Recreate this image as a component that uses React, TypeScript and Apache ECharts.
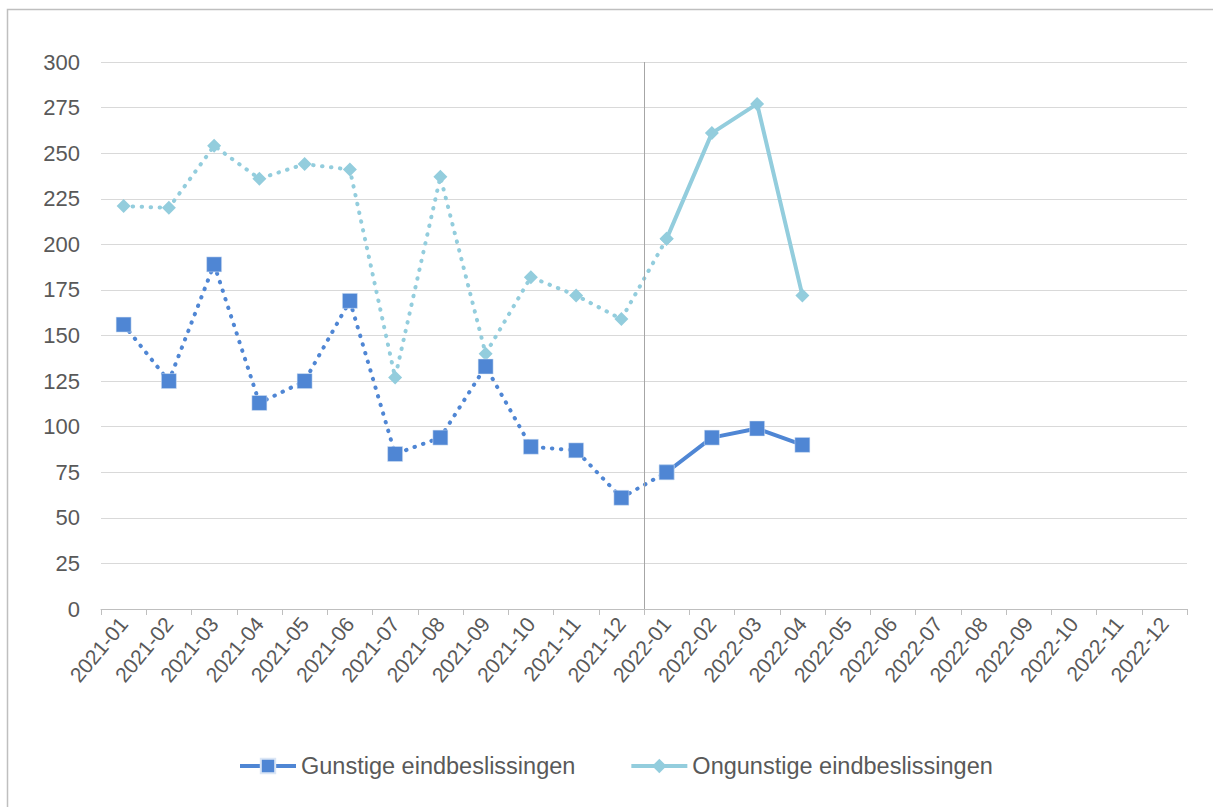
import React, { useEffect, useRef } from "react";
import * as echarts from "echarts";

const categories = [
  "2021-01", "2021-02", "2021-03", "2021-04", "2021-05", "2021-06",
  "2021-07", "2021-08", "2021-09", "2021-10", "2021-11", "2021-12",
  "2022-01", "2022-02", "2022-03", "2022-04", "2022-05", "2022-06",
  "2022-07", "2022-08", "2022-09", "2022-10", "2022-11", "2022-12",
];
const gunstige = [156, 125, 189, 113, 125, 169, 85, 94, 133, 89, 87, 61, 75, 94, 99, 90];
const ongunstige = [221, 220, 254, 236, 244, 241, 127, 237, 140, 182, 172, 159, 203, 261, 277, 172];
const splitIndex = 12; // first month of 2022
const nameG = "Gunstige eindbeslissingen";
const nameO = "Ongunstige eindbeslissingen";
const yTicks = { min: 0, max: 300, interval: 25 };

const colorG = "#4f86d4";
const colorO = "#93cddd";
const textColor = "#595959";
const font = "Liberation Sans";

function dotted(values: number[]) {
  return categories.map((_, i) => (i <= splitIndex && i < values.length ? values[i] : null));
}
function solid(values: number[]) {
  return categories.map((_, i) => (i >= splitIndex && i < values.length ? values[i] : null));
}

export default function App() {
  const ref = useRef<HTMLDivElement>(null);
  useEffect(() => {
    if (!ref.current) return;
    const chart = echarts.init(ref.current, null, { renderer: "svg" });
    const dotStyle = (c: string) => ({ color: c, width: 4, type: [0.5, 8.5] as any, cap: "round" as any });
    const solidStyle = (c: string) => ({ color: c, width: 4 });
    chart.setOption({
      animation: false,
      backgroundColor: "#ffffff",
      textStyle: { fontFamily: font },
      graphic: [
        {
          type: "rect",
          shape: { x: 7.5, y: 9.5, width: 1400, height: 1000 },
          style: { fill: "none", stroke: "#bfbfbf", lineWidth: 1.5 },
          silent: true,
        },
      ],
      grid: { left: 101, right: 26, top: 62, bottom: 198, containLabel: false },
      legend: {
        top: 749,
        left: 233,
        itemWidth: 56,
        itemHeight: 18,
        itemGap: 54,
        data: [nameG, nameO],
        lineStyle: { width: 4 },
        textStyle: { color: textColor, fontSize: 23.5, fontFamily: font },
      },
      xAxis: [
        {
          type: "category",
          data: categories,
          boundaryGap: true,
          axisLine: { lineStyle: { color: "#bfbfbf", width: 1 } },
          axisTick: { show: true, length: 6, lineStyle: { color: "#bfbfbf" } },
          axisLabel: {
            rotate: 50,
            interval: 0,
            fontSize: 21,
            color: textColor,
            fontFamily: font,
            margin: 11,
          },
          splitLine: { show: false },
        },
        {
          type: "value",
          min: 0,
          max: categories.length,
          show: false,
          splitLine: { show: false },
        },
      ],
      yAxis: {
        type: "value",
        min: yTicks.min,
        max: yTicks.max,
        interval: yTicks.interval,
        axisLine: { show: false },
        axisTick: { show: false },
        axisLabel: { fontSize: 22, color: textColor, fontFamily: font, margin: 21 },
        splitLine: { lineStyle: { color: "#d9d9d9", width: 1 } },
      },
      series: [
        {
          name: "divider",
          type: "line",
          xAxisIndex: 1,
          data: [[splitIndex, 0]],
          showSymbol: false,
          symbol: "none",
          lineStyle: { opacity: 0 },
          silent: true,
          markLine: {
            silent: true,
            symbol: "none",
            label: { show: false },
            lineStyle: { color: "#a6a6a6", width: 1, type: "solid" },
            data: [{ xAxis: splitIndex }],
          },
          z: 1,
        },
        {
          name: nameO + " 2021",
          type: "line",
          data: dotted(ongunstige),
          symbol: "diamond",
          symbolSize: 14,
          itemStyle: { color: colorO },
          lineStyle: dotStyle(colorO),
          z: 2,
        },
        {
          name: nameG + " 2021",
          type: "line",
          data: dotted(gunstige),
          symbol: "rect",
          symbolSize: 15,
          itemStyle: { color: colorG, borderColor: "#dbe6f5", borderWidth: 0.5 },
          lineStyle: dotStyle(colorG),
          z: 3,
        },
        {
          name: nameO,
          type: "line",
          data: solid(ongunstige),
          symbol: "diamond",
          symbolSize: 14,
          itemStyle: { color: colorO },
          lineStyle: solidStyle(colorO),
          z: 2,
        },
        {
          name: nameG,
          type: "line",
          data: solid(gunstige),
          symbol: "rect",
          symbolSize: 15,
          itemStyle: { color: colorG, borderColor: "#dbe6f5", borderWidth: 0.5 },
          lineStyle: solidStyle(colorG),
          z: 3,
        },
      ],
    });
    return () => chart.dispose();
  }, []);
  return (
    <div
      ref={ref}
      style={{ position: "absolute", left: 0, top: 0, width: 1213, height: 807, overflow: "hidden" }}
    />
  );
}
